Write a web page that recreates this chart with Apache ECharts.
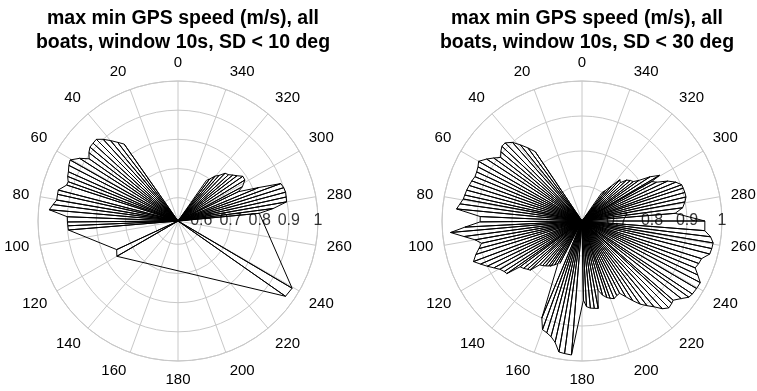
<!DOCTYPE html>
<html><head><meta charset="utf-8">
<script src="https://cdn.jsdelivr.net/npm/echarts@6/dist/echarts.min.js"></script>
<style>html,body{margin:0;padding:0;background:#fff}#c{width:757px;height:391px}</style>
</head><body><div id="c"></div>
<script>
// ---- data ----
const titleLeft = "max min GPS speed (m/s), all\nboats, window 10s, SD < 10 deg";
const titleRight = "max min GPS speed (m/s), all\nboats, window 10s, SD < 30 deg";

const leftRMin = 0.52;
const rightRMin = 0.6;
const radialTickLabels = [0.6, 0.7, 0.8, 0.9, 1];

const leftAngles = [35, 37.5, 40, 42.5, 45, 47.5, 50, 52.5, 55, 57.5, 60.5, 63, 65.8, 68, 70.3, 72.1, 75.5, 77.5, 80.2, 82.5, 85, 87.8, 90.5, 92.5, 94.7,
  115, 120, 235, 239.5,
  275.4, 277.5, 280, 282.5, 285, 287.5, 290, 292.5, 295.9, 298, 301.5, 304.6, 307.5, 310, 312.5, 315.4, 318, 320.5, 323, 325];
const leftValues = [0.842, 0.86, 0.88, 0.90, 0.916, 0.915, 0.914, 0.905, 0.892, 0.92, 0.945, 0.94, 0.932, 0.928, 0.92, 0.921, 0.944, 0.943, 0.942, 0.952, 0.963, 0.90, 0.899, 0.898, 0.897,
  0.752, 0.762, 0.97, 0.974,
  0.80, 0.85, 0.898, 0.90, 0.902, 0.90, 0.895, 0.82, 0.75, 0.77, 0.789, 0.79, 0.775, 0.765, 0.755, 0.75, 0.73, 0.72, 0.70, 0.69];

const rightAngles = [34, 36.5, 39, 41.5, 44.5, 47, 49.5, 52, 54.5, 57, 60, 62.5, 65, 67.5, 70, 72.5, 75, 77.5, 79.5, 82, 84.5, 87.5, 90.5, 93, 95, 97.5, 100, 102.5, 105, 107.5, 110.5,
  113, 115.5, 118, 120.5, 123, 125, 126.5, 129, 131.5, 133.5, 136, 138.5, 141, 143.5, 145.5, 148, 150.5, 152.5, 157.5, 160, 162.5, 165, 167.5, 170, 172.5, 175.5,
  181, 183, 185.5, 188, 190.5, 193, 195.5, 198, 200, 202.5, 205, 207.5, 210, 212.5, 215, 217.5, 220, 222.5, 225, 227.5, 229, 232, 234.5, 236.5, 239.5, 242.5,
  245, 247.5, 250, 252.5, 255.5, 258, 260.5, 263, 265.5, 270, 274.7, 277.5, 280.5, 283, 285.5, 288, 290, 292.5, 295, 297.5, 299.5, 300.5, 303, 305.5, 307.5,
  310, 312.5, 315, 317.5, 320, 322.5, 325];
const rightValues = [0.839, 0.86, 0.88, 0.90, 0.913, 0.913, 0.905, 0.895, 0.91, 0.925, 0.941, 0.935, 0.932, 0.931, 0.935, 0.938, 0.941, 0.943, 0.945, 0.952, 0.96, 0.891, 0.891, 0.935, 0.977, 0.94, 0.91, 0.894, 0.905, 0.918, 0.931,
  0.915, 0.90, 0.885, 0.872, 0.865, 0.862, 0.82, 0.815, 0.808, 0.804, 0.774, 0.77, 0.765, 0.76, 0.758, 0.748, 0.739, 0.737, 0.90, 0.93, 0.935, 0.942, 0.955, 0.98, 0.982, 0.984,
  0.826, 0.845, 0.85, 0.852, 0.854, 0.803, 0.82, 0.83, 0.835, 0.84, 0.835, 0.833, 0.85, 0.87, 0.89, 0.905, 0.92, 0.94, 0.951, 0.948, 0.945, 0.96, 0.975, 0.978, 0.98, 0.981,
  0.965, 0.95, 0.955, 0.958, 0.977, 0.979, 0.98, 0.97, 0.952, 0.951, 0.867, 0.89, 0.899, 0.905, 0.905, 0.904, 0.903, 0.89, 0.87, 0.84, 0.829, 0.857, 0.832, 0.80, 0.785,
  0.78, 0.773, 0.755, 0.76, 0.73, 0.71, 0.699];

// ---- layout ----
const FONT = "'Liberation Sans', Arial, Helvetica, sans-serif";
const GRID = '#c8c8c8';
const centers = [[178, 221], [582, 221]];
const R = 140;

function polarParts(idx, rmin) {
  return {
    polar: { center: centers[idx], radius: R },
    angleAxis: {
      polarIndex: idx, type: 'value', min: 0, max: 360, interval: 20,
      startAngle: 90, clockwise: false,
      axisLine: { show: true, lineStyle: { color: GRID, width: 1 } },
      axisTick: { show: false },
      splitLine: { show: true, lineStyle: { color: GRID, width: 1 } },
      axisLabel: { show: true, margin: 11, color: '#000', fontSize: 15, fontFamily: FONT,
        align: 'center', verticalAlign: 'middle',
        formatter: v => (v >= 360 ? '' : String(v)) }
    },
    radiusAxis: {
      polarIndex: idx, type: 'value', min: rmin, max: 1,
      axisLine: { show: false }, axisTick: { show: false }, axisLabel: { show: false },
      splitLine: { show: true, lineStyle: { color: GRID, width: 1 } }
    }
  };
}

function seriesFor(idx, angles, values, rmin) {
  const outline = angles.map((a, i) => [values[i], a]);
  const rays = [];
  angles.forEach((a, i) => { rays.push([rmin, a]); rays.push([values[i], a]); });
  const labels = radialTickLabels.map(v => [v, 270]);
  return [
    { type: 'scatter', coordinateSystem: 'polar', polarIndex: idx, data: labels, symbolSize: 0, z: 1, silent: true,
      label: { show: true, position: 'inside', color: '#000', fontSize: 16, fontFamily: FONT,
        formatter: p => String(p.value[0]) } },
    { type: 'line', coordinateSystem: 'polar', polarIndex: idx, data: rays, showSymbol: false, z: 3, silent: true,
      lineStyle: { color: '#000', width: 1 } },
    { type: 'line', coordinateSystem: 'polar', polarIndex: idx, data: outline, showSymbol: false, z: 3, silent: true,
      lineStyle: { color: '#000', width: 1 } }
  ];
}

const pL = polarParts(0, leftRMin);
const pR = polarParts(1, rightRMin);

const chart = echarts.init(document.getElementById('c'), null, { renderer: 'canvas' });
chart.setOption({
  animation: false,
  backgroundColor: '#fff',
  title: [
    { text: titleLeft, left: centers[0][0], top: 2, textAlign: 'center',
      textStyle: { fontSize: 19.5, fontWeight: 'bold', fontFamily: FONT, color: '#000', lineHeight: 24 } },
    { text: titleRight, left: centers[1][0], top: 2, textAlign: 'center',
      textStyle: { fontSize: 19.5, fontWeight: 'bold', fontFamily: FONT, color: '#000', lineHeight: 24 } }
  ],
  polar: [pL.polar, pR.polar],
  angleAxis: [pL.angleAxis, pR.angleAxis],
  radiusAxis: [pL.radiusAxis, pR.radiusAxis],
  series: [
    ...seriesFor(0, leftAngles, leftValues, leftRMin),
    ...seriesFor(1, rightAngles, rightValues, rightRMin)
  ]
});
</script></body></html>
